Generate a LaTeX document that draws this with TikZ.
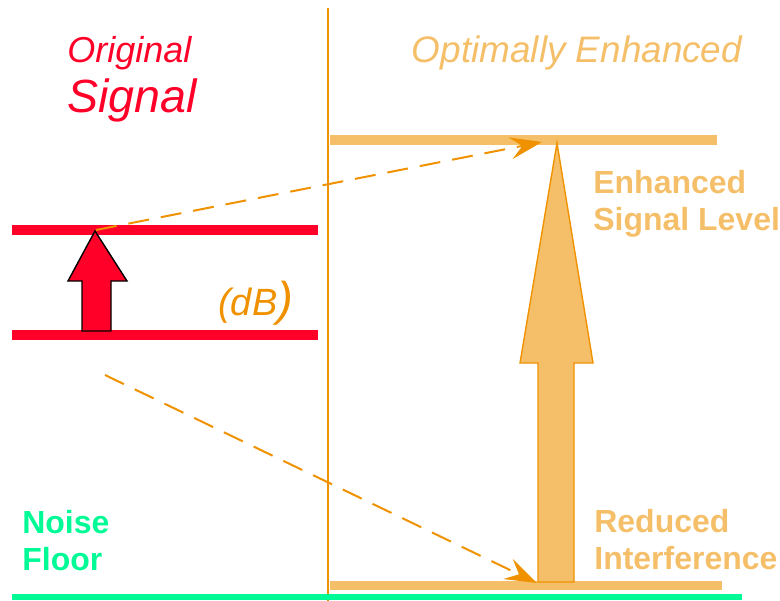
\documentclass[tikz,border=0pt]{standalone}
\usepackage{fontspec}
\setmainfont{Liberation Sans}
\usetikzlibrary{arrows.meta}
\definecolor{sigred}{RGB}{255,0,40}
\definecolor{lightorange}{RGB}{245,191,105}
\definecolor{darkorange}{RGB}{240,146,0}
\definecolor{floorgreen}{RGB}{0,250,150}
\tikzset{
  level/.style={line width=0.2cm},
  gain/.style={darkorange,line width=0.04cm,dash pattern=on 0.42cm off 0.24cm,
    -{Stealth[length=0.64cm,width=0.44cm,inset=0.24cm]}},
  label/.style={inner sep=0pt,anchor=north west,align=left,font=\fontsize{18.2}{21}\selectfont\bfseries}
}
\begin{document}
\begin{tikzpicture}[x=0.02cm,y=-0.02cm]
        \useasboundingbox (0,0) rectangle (780,601);
        % Titel
        \node[sigred,inner sep=0pt,anchor=base west,font=\fontsize{20.5}{24}\selectfont\itshape] (orig) at (67,63) {Original};
        \node[sigred,inner sep=0pt,anchor=base west,font=\fontsize{26.5}{28}\selectfont\itshape] (sig) at (67,113) {Signal};
        \node[lightorange,inner sep=0pt,anchor=base,font=\fontsize{21}{24}\selectfont\itshape] (opt) at (577,63) {Optimally Enhanced};
        % Trennlinie
        \draw[darkorange,line width=0.03cm] (328,8) -- (328,601);
        % Originalsignal
        \draw[level,sigred] (12,230) -- (318,230);
        \draw[level,sigred] (12,335) -- (318,335);
        \draw[fill=sigred,line width=0.8pt] (82,331) -- (82,281) -- (68,281) -- (95,231) -- (127,281)
        -- (111,281) -- (111,331) -- cycle;
        \node[darkorange,inner sep=0pt,anchor=base west,font=\itshape] (db) at (218,315)
          {\fontsize{21.6}{24}\selectfont(dB\fontsize{27}{30}\selectfont)};
        % Verbessertes Signal
        \draw[level,lightorange,line width=0.22cm] (330,140) -- (717,140);
        \draw[level,lightorange,line width=0.18cm] (330,585) -- (722,585);
        \draw[fill=lightorange,draw=darkorange,line width=0.8pt] (538,582) -- (538,363) -- (520,363) -- (557,143)
        -- (593,363) -- (574,363) -- (574,582) -- cycle;
        \draw[floorgreen,line width=0.13cm] (12,597) -- (742,597);
        % Pfeile
        \coordinate (a1) at (96,230);
        \coordinate (b1) at (542,142);
        \coordinate (a2) at (105,375);
        \coordinate (b2) at (537,583);
        \draw[gain] (a1) -- (b1);
        \draw[gain] (a2) -- (b2);
        % Beschriftung
        \node[label,lightorange] (enh) at (593,170) {Enhanced\\Signal Level};
        \node[label,lightorange] (red) at (594,509) {Reduced\\Interference};
        \node[label,floorgreen] (noise) at (22,510) {Noise\\Floor};
      \end{tikzpicture}
\end{document}
